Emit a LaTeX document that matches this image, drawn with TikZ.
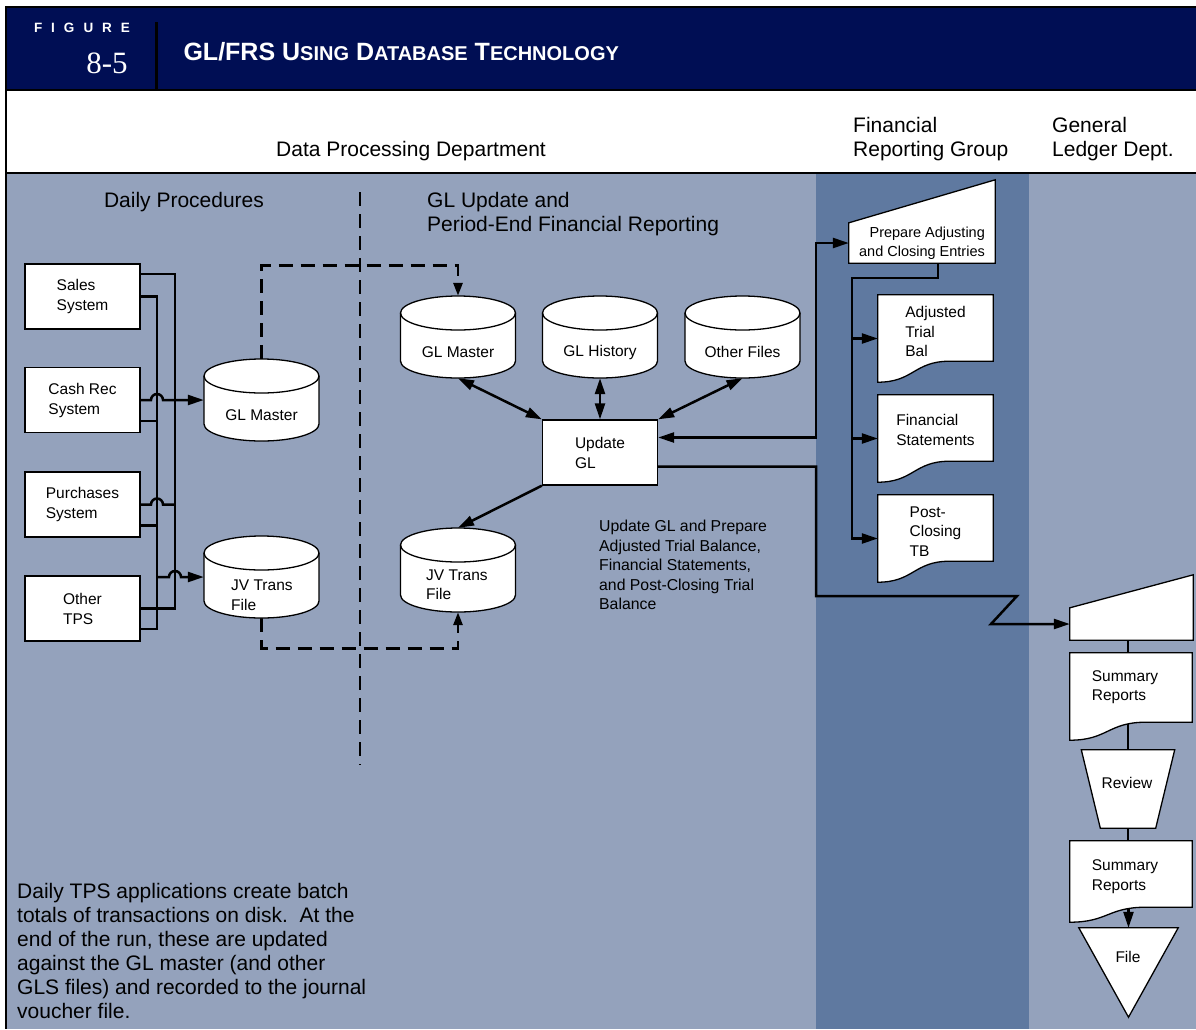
\documentclass[tikz,border=0pt]{standalone}
\usepackage{fontspec}
\setmainfont{Liberation Sans}
\newfontfamily\numfont{Liberation Serif}
\usetikzlibrary{arrows.meta,calc}
\definecolor{navyhd}{RGB}{0,14,84}
\definecolor{slate}{RGB}{148,162,188}
\definecolor{slatedk}{RGB}{95,121,160}
\pgfdeclarelayer{back}
\pgfdeclarelayer{conn}
\pgfdeclarelayer{shp}
\pgfsetlayers{back,conn,shp,main}
\tikzset{
  ghost/.style={inner sep=0pt, draw=none, fill=none},
  shapeline/.style={draw=black, line width=1.3pt, fill=white},
  box/.style={draw=black, line width=1.3pt, fill=white, minimum width=115pt, minimum height=65pt,
    inner sep=0pt, align=left, font=\fontsize{15.5}{20}\selectfont},
  lbl/.style={inner sep=0pt, align=left, font=\fontsize{15.5}{19.5}\selectfont},
  hdr/.style={inner sep=0pt, align=left, font=\fontsize{21}{24}\selectfont},
  cline/.style={line width=2.5pt, line join=miter},
  arr/.style={cline, -{Triangle[length=16pt,width=10pt]}},
  darr/.style={cline, {Triangle[length=16pt,width=10pt]}-{Triangle[length=16pt,width=10pt]}},
  dline/.style={line width=2.8pt, dash pattern=on 14pt off 8pt},
}
\newcommand\dbcyl[4]{% name, cx, top, h
  \node[ghost, minimum width=115pt, minimum height=#4pt] (#1) at ({#2},{#3+#4/2}) {};
  \begin{pgfonlayer}{shp}
  \filldraw[shapeline] ({#2-57.5},{#3+17}) -- ({#2-57.5},{#3+#4-17})
     arc[start angle=180,end angle=360,x radius=57.5pt,y radius=17pt] -- ({#2+57.5},{#3+17})
     arc[start angle=0,end angle=180,x radius=57.5pt,y radius=17pt] -- cycle;
  \draw[shapeline,fill=none] ({#2-57.5},{#3+17})
     arc[start angle=180,end angle=360,x radius=57.5pt,y radius=17pt];
  \end{pgfonlayer}}
\newcommand\docshape[3]{% name, drop, flat x
  \begin{pgfonlayer}{shp}
  \filldraw[shapeline] (#1.north west) -- (#1.north east) -- ($(#1.south east)+(0,-#2)$)
     -- ($(#1.south west)+(#3,-#2)$)
     .. controls ($(#1.south west)+(#3*0.5,-#2)$) and ($(#1.south west)+(#3*0.5,0)$) .. (#1.south west) -- cycle;
  \end{pgfonlayer}}
\newcommand\manin[2]{% name, rise
  \begin{pgfonlayer}{shp}
  \filldraw[shapeline] (#1.south west) -- (#1.north west) -- ($(#1.north east)+(0,-#2)$) -- (#1.south east) -- cycle;
  \end{pgfonlayer}}
\begin{document}
\begin{tikzpicture}[x=1pt,y=-1pt]
\useasboundingbox (0,0) rectangle (1196,1029);
\begin{pgfonlayer}{back}
  \fill[white] (0,0) rectangle (1196,1029);
  \fill[navyhd] (6,8) rectangle (1196,90);
  \fill[slate] (6,173) rectangle (1196,1029);
  \fill[slatedk] (816,173) rectangle (1029,1029);
  \draw[line width=2pt] (6,7) -- (1196,7);
  \draw[line width=2pt] (6,90) -- (1196,90);
  \draw[line width=2.5pt] (6,173) -- (1196,173);
  \draw[line width=2.5pt] (6,6) -- (6,1029);
  \draw[line width=3pt] (156,22) -- (156,90);
  \draw[dline] (360,192) -- (360,765);
\end{pgfonlayer}

% title band
\node[text=white, font=\bfseries\fontsize{13.5}{13.5}\selectfont] (figlbl) at (82,28)
  {F\hspace{9pt}I\hspace{9pt}G\hspace{9pt}U\hspace{9pt}R\hspace{9pt}E};
\node[text=white, font=\numfont\fontsize{31}{31}\selectfont] (fignum) at (107,63) {8-5};
\node[anchor=west, text=white, font=\bfseries\fontsize{25}{25}\selectfont] (title) at (180,52)
  {GL/FRS U{\fontsize{20}{20}\selectfont SING} D{\fontsize{20}{20}\selectfont ATABASE} T{\fontsize{20}{20}\selectfont ECHNOLOGY}};

% column headers
\node[hdr] (hdp) at (411,151) {Data Processing Department};
\node[hdr, anchor=west] (hfr) at (853,139) {Financial\\Reporting Group};
\node[hdr, anchor=west] (hgl) at (1052,139) {General\\Ledger Dept.};
\node[hdr] (hdaily) at (184,202) {Daily Procedures};
\node[hdr, anchor=west] (hupd) at (427,214) {GL Update and\\Period-End Financial Reporting};

% left systems
\node[box] (sales) at (82.5,296.5) {Sales\\System};
\node[box] (cash) at (82.5,400) {Cash Rec\\System};
\node[box] (purch) at (82.5,504.5) {Purchases\\System};
\node[box] (other) at (82.5,608.5) {Other\\TPS};

% cylinders
\dbcyl{gl1}{261.5}{359}{82}
\node[lbl] (gl1t) at (261.5,415) {GL Master};
\dbcyl{jv1}{261.5}{536}{82}
\node[lbl, anchor=west] (jv1t) at (231,595) {JV Trans\\File};
\dbcyl{gm2}{458}{296}{82}
\node[lbl] (gm2t) at (458,352) {GL Master};
\dbcyl{gh}{600}{296}{82}
\node[lbl] (ght) at (600,352) {GL History};
\dbcyl{of}{742.5}{296}{82}
\node[lbl] (oft) at (742.5,352) {Other Files};
\dbcyl{jv2}{458}{528}{84}
\node[lbl, anchor=west] (jv2t) at (426,584.5) {JV Trans\\File};

\node[box] (upd) at (600,452.5) {Update\\GL};

\node[anchor=west, align=left, inner sep=0pt, font=\fontsize{15.8}{19.5}\selectfont] (annot) at (599,565)
  {Update GL and Prepare\\Adjusted Trial Balance,\\Financial Statements,\\and Post-Closing Trial\\Balance};

% financial reporting group
\node[ghost, minimum width=146pt, minimum height=40pt, align=right, font=\fontsize{14.5}{19}\selectfont] (prep) at (922,243)
  {Prepare Adjusting\\and Closing Entries};
\manin{prep}{43}
\node[ghost, minimum width=115pt, minimum height=87pt] (adj) at (935.5,338.5) {};
\docshape{adj}{21}{72}
\node[lbl] (adjt) at (935.5,331.5) {Adjusted\\Trial\\Bal};
\node[ghost, minimum width=115pt, minimum height=87pt] (fin) at (935.5,438.5) {};
\docshape{fin}{21}{72}
\node[lbl] (fint) at (935.5,430) {Financial\\Statements};
\node[ghost, minimum width=115pt, minimum height=87pt] (pct) at (935.5,538.5) {};
\docshape{pct}{21}{72}
\node[lbl] (pctt) at (935.5,531.5) {Post-\\Closing\\TB};

% general ledger dept
\node[ghost, minimum width=123pt, minimum height=32pt] (inp) at (1131.5,624) {};
\manin{inp}{33}
\node[ghost, minimum width=122pt, minimum height=87pt] (sr1) at (1131,696.5) {};
\docshape{sr1}{18}{76}
\node[lbl] (sr1t) at (1125,687) {Summary\\Reports};
\node[ghost, minimum width=93pt, minimum height=78pt] (rev) at (1128,789) {};
\begin{pgfonlayer}{shp}
  \filldraw[shapeline] (rev.north west) -- (rev.north east) -- ($(rev.south east)+(-19,0)$) -- ($(rev.south west)+(19,0)$) -- cycle;
\end{pgfonlayer}
\node[lbl] (revt) at (1127,783) {Review};
\node[ghost, minimum width=122pt, minimum height=81pt] (sr2) at (1131,881.5) {};
\docshape{sr2}{15}{76}
\node[lbl] (sr2t) at (1125,876.5) {Summary\\Reports};
\node[ghost, minimum width=99pt, minimum height=89pt] (file) at (1128.5,972.5) {};
\begin{pgfonlayer}{shp}
  \filldraw[shapeline] (file.north west) -- (file.north east) -- (file.south) -- cycle;
\end{pgfonlayer}
\node[lbl] (filet) at (1128,957) {File};

% connectors
\coordinate (busI) at (157,0);
\coordinate (busO) at (175,0);
\coordinate (salhi) at ($(sales.east)+(0,-22.5)$);
\coordinate (cashlo) at ($(cash.east)+(0,21)$);
\coordinate (purlo) at ($(purch.east)+(0,21)$);
\coordinate (othlo) at ($(other.east)+(0,20.5)$);
\coordinate (colx) at (816,0);
\coordinate (zz1) at (1017,596);
\coordinate (zz2) at (991,624);
\coordinate (fb1) at (852,278);
\begin{pgfonlayer}{conn}
  \draw[cline] (salhi) -| (busO |- other.east) -- (other.east);
  \draw[cline] (sales.east) -| (busI |- othlo) -- (othlo);
  \draw[cline] (cashlo) -- (busI |- cashlo);
  \draw[cline] (purlo) -- (busI |- purlo);
  \draw[arr] (cash.east) -- (151,400) arc[start angle=180,end angle=0,radius=6pt] -- (gl1.west);
  \draw[cline] (purch.east) -- (151,504.5) arc[start angle=180,end angle=0,radius=6pt] -- (busO |- purch.east);
  \draw[arr] (busI |- jv1.west) -- (169,577) arc[start angle=180,end angle=0,radius=6pt] -- (jv1.west);

  \draw[dline, -{Triangle[length=13pt,width=9pt]}] (gl1.north) |- ($(gm2.north)+(0,-30)$) -- (gm2.north);
  \draw[dline, -{Triangle[length=13pt,width=9pt]}] (jv1.south) |- ($(jv2.south)+(0,36)$) -- (jv2.south);

  \draw[darr] (gm2.south) -- (upd.north west);
  \draw[darr] (gh.south) -- (upd.north);
  \draw[darr] (of.south) -- (upd.north east);
  \draw[arr] (upd.south west) -- (jv2.north);

  \draw[darr] ([yshift=15pt]upd.east) -| (colx |- prep.west) -- (prep.west);
  \draw[arr] ([yshift=-14pt]upd.east) -| (colx |- zz1) -- (zz1) -- (zz2) -- (inp.west);

  \draw[arr] ([xshift=16pt]prep.south) |- (fb1) |- (pct.west);
  \draw[arr] (fb1 |- adj.west) -- (adj.west);
  \draw[arr] (fb1 |- fin.west) -- (fin.west);

  \draw[cline] (inp.south -| rev.north) -- (sr1.center -| rev.north);
  \draw[cline] (sr1.center -| rev.north) -- (rev.north);
  \draw[cline] (rev.south) -- (sr2.north -| rev.south);
  \draw[arr] (sr2.center -| file.north) -- (file.north);
\end{pgfonlayer}

\node[anchor=west, align=left, inner sep=0pt, font=\fontsize{21}{24}\selectfont] (note) at (17,951)
  {Daily TPS applications create batch\\totals of transactions on disk.\ \ At the\\end of the run, these are updated\\against the GL master (and other\\GLS files) and recorded to the journal\\voucher file.};
\end{tikzpicture}
\end{document}
